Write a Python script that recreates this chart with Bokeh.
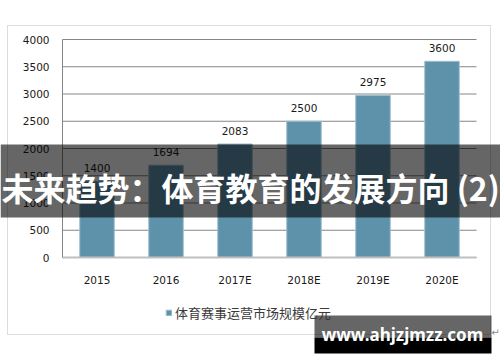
from bokeh.plotting import figure
from bokeh.models import (Range1d, BoxAnnotation, Label, Legend, LegendItem,
                          GlobalInlineStyleSheet, FixedTicker, LinearAxis)
from bokeh.core.properties import value
from bokeh.embed import file_html
from bokeh.resources import INLINE

years = ["2015", "2016", "2017E", "2018E", "2019E", "2020E"]
market = [1400, 1694, 2083, 2500, 2975, 3600]
y_ticks = [0, 500, 1000, 1500, 2000, 2500, 3000, 3500, 4000]
series_name = "体育赛事运营市场规模亿元"
banner_title = "未来趋势：体育教育的发展方向 (2)"
watermark = "www.ahjzjmzz.com"

NUM_FONT = "DejaVu Sans"
CJK_FONT = "Noto Sans CJK SC"

W, H = 500, 362
# plot area in the picture: x 62..476, y 39..257 (px from top-left)
PL, PR, PT, PB = 62, 476, 39, 257
n = len(years)
cat_px = (PR - PL) / n
x0 = -0.5 - PL / cat_px
x1 = x0 + W / cat_px
ymax = y_ticks[-1]
per_px = ymax / (PB - PT)
y0 = -(H - PB) * per_px
y1 = ymax + PT * per_px

idx = list(range(n))

p = figure(width=W, height=H, x_range=Range1d(x0, x1), y_range=Range1d(y0, y1),
           output_backend="svg", toolbar_location=None, x_axis_type=None, y_axis_type=None,
           min_border=0, min_border_left=0, min_border_right=0, min_border_top=0, min_border_bottom=0,
           background_fill_color="white", border_fill_color="white", outline_line_color=None,
           stylesheets=[GlobalInlineStyleSheet(css="html,body{margin:0;padding:0;overflow:hidden;}")])
p.grid.visible = False

# outer chart border
p.add_layout(BoxAnnotation(left=7, right=490, top=25, bottom=334,
                           left_units="canvas", right_units="canvas",
                           top_units="canvas", bottom_units="canvas",
                           fill_color=None, line_color="#8c8c8c", line_width=1, level="underlay"))

# horizontal gridlines over the category span
p.segment(x0=[-0.5] * len(y_ticks), x1=[n - 0.5] * len(y_ticks), y0=y_ticks, y1=y_ticks,
          line_color="#868686", line_width=1)

bars = p.vbar(x=idx, top=market, width=0.5, fill_color="#5E92AA",
              line_color="#9fbfce", line_width=1)
p.text(x=idx, y=market, text=[str(v) for v in market], y_offset=-9,
       text_align="center", text_baseline="bottom", text_font=value(NUM_FONT),
       text_font_size="10.5px", text_color="#1a1a1a")

yax = LinearAxis(fixed_location=-0.5, bounds=(0, ymax), ticker=FixedTicker(ticks=y_ticks),
                 axis_line_color="#868686", major_tick_out=0, major_tick_in=0,
                 major_tick_line_color=None, minor_tick_line_color=None,
                 major_label_standoff=13, major_label_text_font=NUM_FONT,
                 major_label_text_font_size="10.5px", major_label_text_color="#1a1a1a")
p.add_layout(yax, "left")

xax = LinearAxis(fixed_location=0, bounds=(-0.5, n - 0.5), ticker=FixedTicker(ticks=idx),
                 major_label_overrides={i: y for i, y in enumerate(years)},
                 axis_line_color="#c0c0c0", axis_line_width=2, major_tick_out=0, major_tick_in=0,
                 major_tick_line_color=None, minor_tick_line_color=None,
                 major_label_standoff=16, major_label_text_font=NUM_FONT,
                 major_label_text_font_size="10.5px", major_label_text_color="#1a1a1a")
p.add_layout(xax, "below")

legend = Legend(items=[LegendItem(label=series_name, renderers=[bars])],
                location=(165, 40), orientation="horizontal",
                glyph_width=7, glyph_height=7, label_standoff=3, padding=0, margin=0,
                border_line_color=None, background_fill_alpha=0,
                label_text_font=CJK_FONT, label_text_font_size="13px", label_text_color="#3a3a3a")
p.add_layout(legend, "center")

# dark banner with title
p.add_layout(BoxAnnotation(left=0, right=W, top=144, bottom=217,
                           left_units="canvas", right_units="canvas",
                           top_units="canvas", bottom_units="canvas",
                           fill_color="black", fill_alpha=0.6, line_color=None, level="overlay"))
p.add_layout(Label(x=1, y=186, x_units="canvas", y_units="canvas", text=banner_title,
                   text_font=CJK_FONT, text_font_style="bold", text_font_size="32px",
                   text_color="white", text_baseline="middle", text_align="left", level="overlay"))

# watermark box
p.add_layout(BoxAnnotation(left=314, right=491, top=315, bottom=337,
                           left_units="canvas", right_units="canvas",
                           top_units="canvas", bottom_units="canvas",
                           fill_color="black", fill_alpha=0.6, line_color=None, level="overlay"))
p.add_layout(BoxAnnotation(left=314, right=491, top=337, bottom=353,
                           left_units="canvas", right_units="canvas",
                           top_units="canvas", bottom_units="canvas",
                           fill_color="black", fill_alpha=1.0, line_color=None, level="overlay"))
p.add_layout(Label(x=402, y=334, x_units="canvas", y_units="canvas", text=watermark,
                   text_font="Noto Sans", text_font_style="bold", text_font_size="17px",
                   text_color="white", text_baseline="middle", text_align="center", level="overlay"))
p.add_layout(Label(x=495, y=332, x_units="canvas", y_units="canvas", text="↵",
                   text_font="DejaVu Sans", text_font_size="10px",
                   text_color="#888888", text_baseline="middle", text_align="center"))

open("out.html", "w").write(file_html(p, INLINE))
